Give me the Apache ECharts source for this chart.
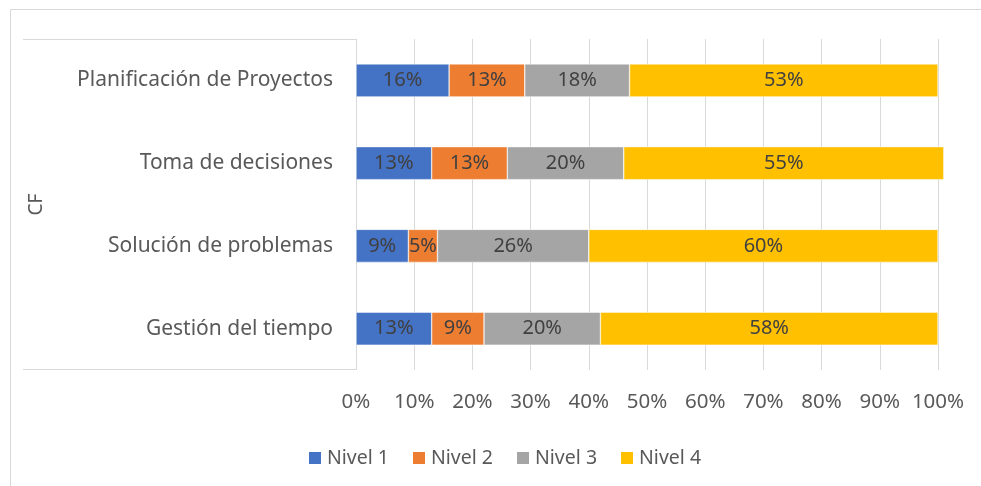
<!DOCTYPE html>
<html>
<head>
<meta charset="utf-8">
<script src="https://cdn.jsdelivr.net/npm/echarts@6/dist/echarts.min.js"></script>
<style>
  html, body { margin: 0; padding: 0; background: #fff; }
  #chart { width: 981px; height: 486px; }
</style>
</head>
<body>
<div id="chart"></div>
<script>
// categories top to bottom
const categories = ['Planificación de Proyectos', 'Toma de decisiones', 'Solución de problemas', 'Gestión del tiempo']
const nivel1 = [16, 13, 9, 13]
const nivel2 = [13, 13, 5, 9]
const nivel3 = [18, 20, 26, 20]
const nivel4 = [53, 55, 60, 58]
const seriesNames = ['Nivel 1', 'Nivel 2', 'Nivel 3', 'Nivel 4']
const colors = ['#4472C4', '#ED7D31', '#A5A5A5', '#FFC000']

const font = 'Noto Sans'
const chart = echarts.init(document.getElementById('chart'))

function barSeries(name, values) {
  return {
    name: name,
    type: 'bar',
    stack: 'total',
    barWidth: 33,
    clip: false,
    data: values,
    itemStyle: { borderColor: '#fff', borderWidth: 0.5 },
    label: {
      show: true,
      formatter: '{c}%',
      color: '#404040',
      fontFamily: font,
      fontSize: 20
    }
  }
}

chart.setOption({
  animation: false,
  color: colors,
  textStyle: { fontFamily: font },
  grid: { left: 356, right: 43, top: 39, bottom: 116 },
  legend: {
    left: 302,
    top: 443,
    itemWidth: 14,
    itemHeight: 14,
    itemGap: 22,
    icon: 'rect',
    textStyle: { color: '#595959', fontSize: 19.5, fontFamily: font }
  },
  xAxis: {
    type: 'value',
    min: 0,
    max: 100,
    interval: 10,
    axisLine: { show: false },
    axisTick: { show: false },
    splitLine: { lineStyle: { color: '#d9d9d9', width: 1 } },
    axisLabel: {
      formatter: '{value}%',
      color: '#595959',
      fontSize: 20.5,
      margin: 22
    }
  },
  yAxis: {
    type: 'category',
    inverse: true,
    data: categories,
    name: 'CF',
    nameLocation: 'middle',
    nameGap: 310,
    nameTextStyle: { color: '#595959', fontSize: 19 },
    axisLine: { show: false },
    axisTick: { show: false },
    axisLabel: { color: '#595959', fontSize: 21, margin: 23 }
  },
  graphic: [
    { type: 'rect', shape: { x: 10.5, y: 9.5, width: 985, height: 490 }, style: { fill: 'none', stroke: '#d9d9d9', lineWidth: 1 }, silent: true },
    { type: 'line', shape: { x1: 23, y1: 39.5, x2: 356, y2: 39.5 }, style: { stroke: '#d9d9d9', lineWidth: 1 }, silent: true },
    { type: 'line', shape: { x1: 23, y1: 369.5, x2: 356, y2: 369.5 }, style: { stroke: '#d9d9d9', lineWidth: 1 }, silent: true }
  ],
  series: [
    barSeries(seriesNames[0], nivel1),
    barSeries(seriesNames[1], nivel2),
    barSeries(seriesNames[2], nivel3),
    barSeries(seriesNames[3], nivel4)
  ]
})
</script>
</body>
</html>
